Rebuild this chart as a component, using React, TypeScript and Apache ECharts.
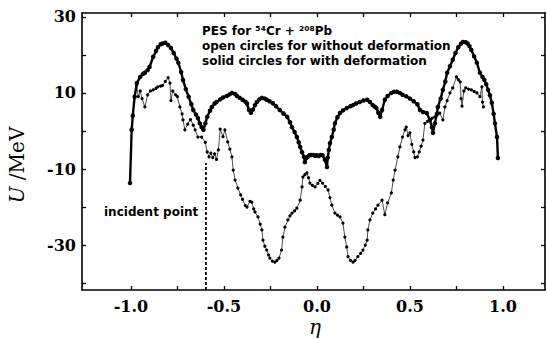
import React, { useEffect, useRef } from "react";
import * as echarts from "echarts";

// With deformation (solid circles) — eta values and potential U (MeV)
const etaWith: number[] = [
  -1.005, -0.996, -0.99, -0.98, -0.968, -0.95, -0.935, -0.925, -0.91, -0.9, -0.88, -0.865, -0.855, -0.84, -0.83,
  -0.815, -0.8, -0.785, -0.77, -0.755, -0.745, -0.73, -0.72, -0.705, -0.69, -0.675, -0.665, -0.65, -0.64, -0.63,
  -0.62, -0.61, -0.6, -0.59, -0.575, -0.565, -0.55, -0.54, -0.52, -0.505, -0.485, -0.47, -0.457, -0.44, -0.43,
  -0.415, -0.4, -0.385, -0.376, -0.365, -0.355, -0.344, -0.333, -0.323, -0.31, -0.296, -0.28, -0.27, -0.255,
  -0.237, -0.22, -0.2, -0.18, -0.16, -0.145, -0.134, -0.12, -0.108, -0.098, -0.09, -0.08, -0.07, -0.065, -0.058,
  -0.05, -0.04, -0.03, -0.02, -0.01, 0.0, 0.01, 0.02, 0.03, 0.043, 0.054, 0.058, 0.064, 0.07, 0.08, 0.09, 0.097,
  0.11, 0.124, 0.14, 0.16, 0.18, 0.194, 0.21, 0.23, 0.25, 0.27, 0.285, 0.3, 0.31, 0.32, 0.33, 0.34, 0.35, 0.365,
  0.38, 0.4, 0.415, 0.43, 0.446, 0.46, 0.48, 0.5, 0.52, 0.54, 0.554, 0.57, 0.59, 0.607, 0.618, 0.624, 0.634, 0.645,
  0.65, 0.665, 0.677, 0.69, 0.7, 0.715, 0.73, 0.745, 0.76, 0.775, 0.785, 0.8, 0.81, 0.82, 0.83, 0.845, 0.86, 0.876,
  0.89, 0.9, 0.91, 0.92, 0.93, 0.94, 0.95, 0.957, 0.968, 0.973,
];
const uWith: number[] = [
  -13.7, 0.3, 4, 9, 12.6, 14.2, 15, 15.3, 16, 16.8, 19.5, 21, 22, 22.8, 23,
  23.2, 22.6, 21.8, 20.5, 19, 17.9, 15.5, 13.4, 11, 9, 7, 5.5, 4.3, 3.4, 2,
  1, 0.3, 2, 3.7, 5.3, 6.3, 7.2, 7.6, 8.3, 8.8, 9.2, 9.6, 10, 9.7, 9.2,
  8.7, 8.2, 7.7, 7.2, 5.5, 4.8, 5.6, 6.8, 7.6, 8.3, 8.7, 8.5, 8.2, 7.8,
  7.3, 6.5, 5.5, 4.6, 3.7, 2.3, 1, -0.3, -1.6, -3, -4.2, -5.6, -6.8, -8.2, -7.2,
  -6.8, -6.4, -6.3, -6.3, -6.5, -6.4, -6.6, -6.3, -6.4, -7.6, -9.5, -7, -5, -3.2, -1.6, 0.3, 2,
  3.6, 4.7, 5.4, 6, 6.5, 6.8, 7.2, 7.6, 8, 8.2, 7.6, 6.8, 6.4, 6, 4.8, 3.7, 5.5, 8.2,
  9.2, 10, 10.3, 10.3, 10, 9.5, 9.1, 8.5, 7.8, 7, 5.5, 5, 4.7, 2.9, 1, -0.5, 2, 4.5,
  6.3, 8.5, 10.8, 13, 15.3, 17, 18.7, 20.5, 22, 23, 23.4, 23.3, 23, 22.3, 21.3, 19.6, 17.9, 15.3,
  14.2, 13.4, 12.3, 10.8, 9.4, 7.4, 4.5, 2, -1.6, -7.1,
];

// Without deformation (open circles)
const etaWithout: number[] = [
  -0.97, -0.96, -0.95, -0.94, -0.925, -0.91, -0.895, -0.88, -0.865, -0.855, -0.84, -0.83, -0.815, -0.8, -0.79,
  -0.785, -0.775, -0.76, -0.75, -0.737, -0.725, -0.72, -0.71, -0.695, -0.68, -0.665, -0.655, -0.64, -0.62, -0.6,
  -0.59, -0.58, -0.57, -0.56, -0.55, -0.54, -0.53, -0.52, -0.505, -0.495, -0.48, -0.468, -0.457, -0.45, -0.44,
  -0.425, -0.41, -0.4, -0.385, -0.376, -0.36, -0.35, -0.34, -0.333, -0.317, -0.305, -0.296, -0.29, -0.28, -0.27,
  -0.26, -0.253, -0.24, -0.226, -0.215, -0.204, -0.19, -0.183, -0.172, -0.156, -0.145, -0.134, -0.12, -0.108,
  -0.09, -0.08, -0.075, -0.065, -0.054, -0.045, -0.038, -0.025, -0.01, 0.005, 0.016, 0.03, 0.045, 0.06, 0.07,
  0.08, 0.097, 0.11, 0.124, 0.14, 0.15, 0.16, 0.167, 0.18, 0.194, 0.205, 0.22, 0.235, 0.247, 0.26, 0.27, 0.274,
  0.285, 0.3, 0.315, 0.328, 0.35, 0.365, 0.38, 0.4, 0.41, 0.42, 0.435, 0.446, 0.46, 0.473, 0.48, 0.49, 0.5, 0.51,
  0.52, 0.527, 0.54, 0.55, 0.56, 0.57, 0.58, 0.595, 0.607, 0.62, 0.634, 0.645, 0.66, 0.677, 0.688, 0.7, 0.715,
  0.73, 0.75, 0.76, 0.77, 0.775, 0.78, 0.79, 0.8, 0.815, 0.83, 0.845, 0.86, 0.876, 0.887, 0.89, 0.895,
];
const uWithout: number[] = [
  12, 9, 10.5, 8.5, 6.3, 9.5, 10.5, 10.8, 11.2, 11.6, 11.8, 12, 13, 14, 12.6,
  8, 10.5, 9.5, 9, 6.3, 4.5, 2.9, 0.3, 1.8, 3, 1.5, 0.3, -1.6, -1.6, -3,
  -5.5, -6.8, -5.8, -7, -6, -7.5, -5, 0.5, -1.5, 0.3, -2.9, -4.8, -6.8, -10.3, -12.9,
  -15, -16.8, -18, -19.6, -20, -18.5, -18.7, -20.5, -21.3, -22.6, -24.5, -26, -28.7, -30.3, -31.3,
  -32.6, -33.4, -34.2, -34.5, -34, -33.4, -31.3, -27.9, -25.3, -23.4, -22.3, -21.6, -21, -20.3,
  -18.2, -14.7, -12.1, -11.5, -11, -12.3, -13.7, -14.3, -14.7, -13.8, -13, -13.7, -14.6, -15.5, -17.5,
  -19.5, -21.6, -22.1, -22.6, -24.2, -27.9, -30.5, -33, -34, -34.5, -34, -33, -32.2, -31.3, -30, -28.7, -26,
  -23.4, -21.6, -20.5, -19.5, -18.2, -22, -18.9, -16.3, -12.9, -10.3, -6.8, -4.2, -1.6, 0.3, 1, -1.2, -0.5, -3.5,
  -5.5, -7, -6.8, -5.5, -4, -2.4, 2, 2.5, 2.9, 3.4, 3.7, 4.2, 4.7, 2.9, 6.3, 8, 10,
  11.3, 14.2, 13.5, 12.9, 8.5, 6.5, 10.5, 11.3, 11, 10.8, 10.4, 10, 9, 11.6, 7.6, 6.3,
];

// Incident point marker
const incidentEta: number[] = [-0.597, -0.597];
const incidentU: number[] = [-41.8, -8.4];

// Axis ranges and tick labels
const xMin = -1.263;
const xMax = 1.226;
const yMin = -41.8;
const yMax = 31;
const xLabelValues: number[] = [-1, -0.5, 0, 0.5, 1];
const xTickValues: number[] = [-1, -0.75, -0.5, -0.25, 0, 0.25, 0.5, 0.75, 1];
const yLabelValues: number[] = [30, 10, -10, -30];
const yTickValues: number[] = [30, 20, 10, 0, -10, -20, -30, -40];

const annotationLines: string[] = [
  "PES for \u2075\u2074Cr + \u00B2\u2070\u2078Pb",
  "open circles for without deformation",
  "solid circles for with deformation",
];

const zip = (xs: number[], ys: number[]) => xs.map((x, i) => [x, ys[i]]);

export default function App() {
  const ref = useRef<HTMLDivElement>(null);
  useEffect(() => {
    if (!ref.current) return;
    const chart = echarts.init(ref.current, null, { renderer: "svg" });
    const serif = "'DejaVu Serif', 'Liberation Serif', serif";
    const sans = "'DejaVu Sans', 'Liberation Sans', Arial, sans-serif";
    const axisLine = { show: true, onZero: false, lineStyle: { color: "#000", width: 1.6 } };
    const tick = (values: number[]) => ({
      inside: true,
      length: 4,
      customValues: values,
      lineStyle: { color: "#000", width: 1.3 },
    });
    chart.setOption({
      animation: false,
      backgroundColor: "#fff",
      grid: { left: 82, right: 2, top: 13, bottom: 49, containLabel: false, outerBoundsMode: "none" },
      xAxis: [
        {
          type: "value",
          position: "bottom",
          min: xMin,
          max: xMax,
          axisLine,
          splitLine: { show: false },
          axisTick: tick(xTickValues),
          axisLabel: {
            customValues: xLabelValues,
            formatter: (v: number) => v.toFixed(1),
            color: "#000",
            fontFamily: serif,
            fontWeight: "bold",
            fontSize: 16,
            margin: 8,
          },
        },
        {
          type: "value",
          position: "top",
          min: xMin,
          max: xMax,
          axisLine,
          splitLine: { show: false },
          axisTick: tick(xTickValues),
          axisLabel: { show: false },
        },
      ],
      yAxis: [
        {
          type: "value",
          position: "left",
          min: yMin,
          max: yMax,
          axisLine,
          splitLine: { show: false },
          axisTick: tick(yTickValues),
          axisLabel: {
            customValues: yLabelValues,
            color: "#000",
            fontFamily: serif,
            fontWeight: "bold",
            fontSize: 16,
            margin: 6,
          },
        },
        {
          type: "value",
          position: "right",
          min: yMin,
          max: yMax,
          axisLine,
          splitLine: { show: false },
          axisTick: tick(yTickValues),
          axisLabel: { show: false },
        },
      ],
      series: [
        {
          name: "without deformation",
          type: "line",
          data: zip(etaWithout, uWithout),
          symbol: "circle",
          symbolSize: 3.2,
          showAllSymbol: true,
          lineStyle: { color: "#000", width: 0.7 },
          itemStyle: { color: "#000" },
          z: 3,
        },
        {
          name: "with deformation",
          type: "line",
          data: zip(etaWith, uWith),
          symbol: "circle",
          symbolSize: 4.5,
          showAllSymbol: true,
          lineStyle: { color: "#000", width: 2.4 },
          itemStyle: { color: "#000" },
          z: 4,
        },
        {
          name: "incident point",
          type: "line",
          data: zip(incidentEta, incidentU),
          symbol: "none",
          lineStyle: { color: "#000", width: 1.8, type: [3, 2] },
          z: 2,
        },
      ],
      graphic: [
        ...annotationLines.map((t, i) => ({
          type: "text",
          left: 202,
          top: 25 + i * 15,
          style: { text: t, fill: "#000", font: `bold 12px ${sans}` },
        })),
        {
          type: "text",
          left: 104,
          top: 206,
          style: { text: "incident point", fill: "#000", font: `bold 12px ${sans}` },
        },
        {
          type: "text",
          x: 17,
          y: 165,
          rotation: Math.PI / 2,
          style: {
            text: "{i|U} /MeV",
            fill: "#000",
            font: `20px ${serif}`,
            align: "center",
            verticalAlign: "middle",
            rich: { i: { fontStyle: "italic", fontFamily: serif, fontSize: 20, fill: "#000" } },
          },
        },
        {
          type: "text",
          x: 315,
          y: 327,
          style: {
            text: "\u03B7",
            fill: "#000",
            font: `italic 20px ${serif}`,
            align: "center",
            verticalAlign: "middle",
          },
        },
      ],
    });
    return () => chart.dispose();
  }, []);
  return <div ref={ref} style={{ position: "absolute", left: 0, top: 0, width: 547, height: 339 }} />;
}
